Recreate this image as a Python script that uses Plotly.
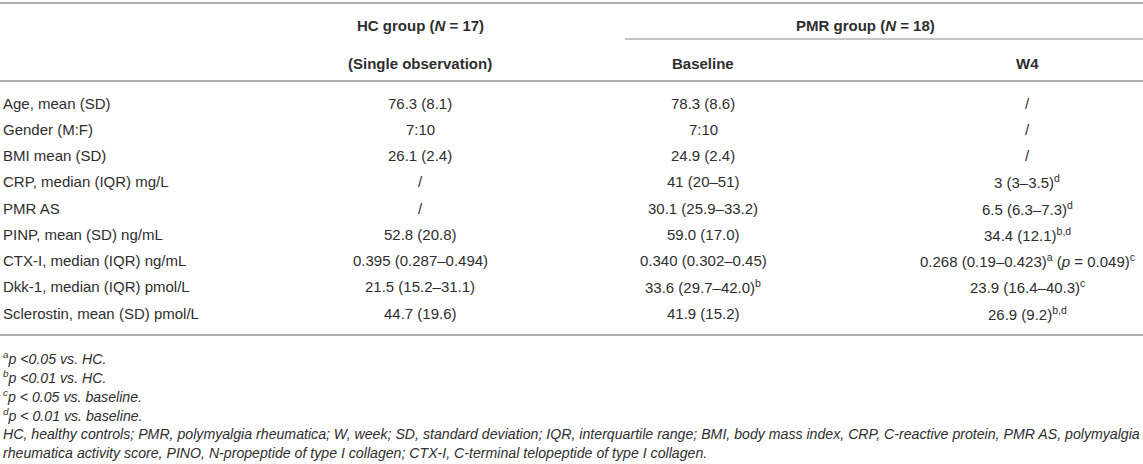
import plotly.graph_objects as go

# ---- data ----
row_labels = [
    "Age, mean (SD)",
    "Gender (M:F)",
    "BMI mean (SD)",
    "CRP, median (IQR) mg/L",
    "PMR AS",
    "PINP, mean (SD) ng/mL",
    "CTX-I, median (IQR) ng/mL",
    "Dkk-1, median (IQR) pmol/L",
    "Sclerostin, mean (SD) pmol/L",
]
hc_values = [
    "76.3 (8.1)", "7:10", "26.1 (2.4)", "/", "/", "52.8 (20.8)",
    "0.395 (0.287–0.494)", "21.5 (15.2–31.1)", "44.7 (19.6)",
]
baseline_values = [
    "78.3 (8.6)", "7:10", "24.9 (2.4)", "41 (20–51)", "30.1 (25.9–33.2)",
    "59.0 (17.0)", "0.340 (0.302–0.45)", "33.6 (29.7–42.0)<sup>b</sup>", "41.9 (15.2)",
]
w4_values = [
    "/", "/", "/", "3 (3–3.5)<sup>d</sup>", "6.5 (6.3–7.3)<sup>d</sup>",
    "34.4 (12.1)<sup>b,d</sup>",
    "0.268 (0.19–0.423)<sup>a</sup> (<i>p</i> = 0.049)<sup>c</sup>",
    "23.9 (16.4–40.3)<sup>c</sup>", "26.9 (9.2)<sup>b,d</sup>",
]
header_hc = ["HC group (<i>N</i> = 17)", "(Single observation)"]
header_pmr = "PMR group (<i>N</i> = 18)"
header_sub = ["Baseline", "W4"]
footnotes = [
    "<sup>a</sup>p &lt;0.05 vs. HC.",
    "<sup>b</sup>p &lt;0.01 vs. HC.",
    "<sup>c</sup>p &lt; 0.05 vs. baseline.",
    "<sup>d</sup>p &lt; 0.01 vs. baseline.",
    "HC, healthy controls; PMR, polymyalgia rheumatica; W, week; SD, standard deviation; IQR, interquartile range; BMI, body mass index, CRP, C-reactive protein, PMR AS, polymyalgia",
    "rheumatica activity score, PINO, N-propeptide of type I collagen; CTX-I, C-terminal telopeptide of type I collagen.",
]

# ---- layout constants ----
W, H = 1143, 464
FONT = "Liberation Sans, Arial, Helvetica, sans-serif"
TXT = "#2e2e2e"
LINE = "#b0b0b0"
x_label = 1
x_hc, x_base, x_w4 = 420, 703, 1027
x_pmr = 865
y_row0, row_step = 103, 26.25
fs = 15
fs_note = 14.15

fig = go.Figure()
fig.add_trace(go.Scatter(x=[0, W], y=[0, H], mode="markers", marker=dict(opacity=0),
                         hoverinfo="skip", showlegend=False))

ann = []
def t(x, y, s, anchor="center", size=fs, italic=False):
    ann.append(dict(x=x, y=y, text=s, showarrow=False, xanchor=anchor, yanchor="middle",
                    font=dict(family=FONT, size=size, color=TXT,
                              style="italic" if italic else "normal")))

# headers
t(x_hc, 25, "<b>" + header_hc[0] + "</b>")
t(x_hc, 63, "<b>" + header_hc[1] + "</b>")
t(x_pmr, 25, "<b>" + header_pmr + "</b>")
t(x_base, 63, "<b>" + header_sub[0] + "</b>")
t(x_w4, 63, "<b>" + header_sub[1] + "</b>")

for i, lab in enumerate(row_labels):
    y = y_row0 + i * row_step
    t(x_label, y, lab, anchor="left")
    t(x_hc, y, hc_values[i])
    t(x_base, y, baseline_values[i])
    t(x_w4, y, w4_values[i])

for i, fn in enumerate(footnotes):
    t(x_label, 358 + i * 19, fn, anchor="left", size=fs_note, italic=True)

shapes = []
def hline(y, x0=0, x1=W, w=2):
    shapes.append(dict(type="line", x0=x0, x1=x1, y0=y, y1=y, xref="x", yref="y",
                       line=dict(color=LINE, width=w)))
hline(3)
hline(39, 625, W, 1.5)
hline(81)
hline(335)

fig.update_layout(
    width=W, height=H, margin=dict(l=0, r=0, t=0, b=0),
    paper_bgcolor="white", plot_bgcolor="white",
    xaxis=dict(range=[0, W], visible=False, fixedrange=True),
    yaxis=dict(range=[H, 0], visible=False, fixedrange=True),
    annotations=ann, shapes=shapes,
)
fig.write_html("out.html", config={"displayModeBar": False},
               post_script="document.body.style.margin='0';document.body.style.overflow='hidden';")
